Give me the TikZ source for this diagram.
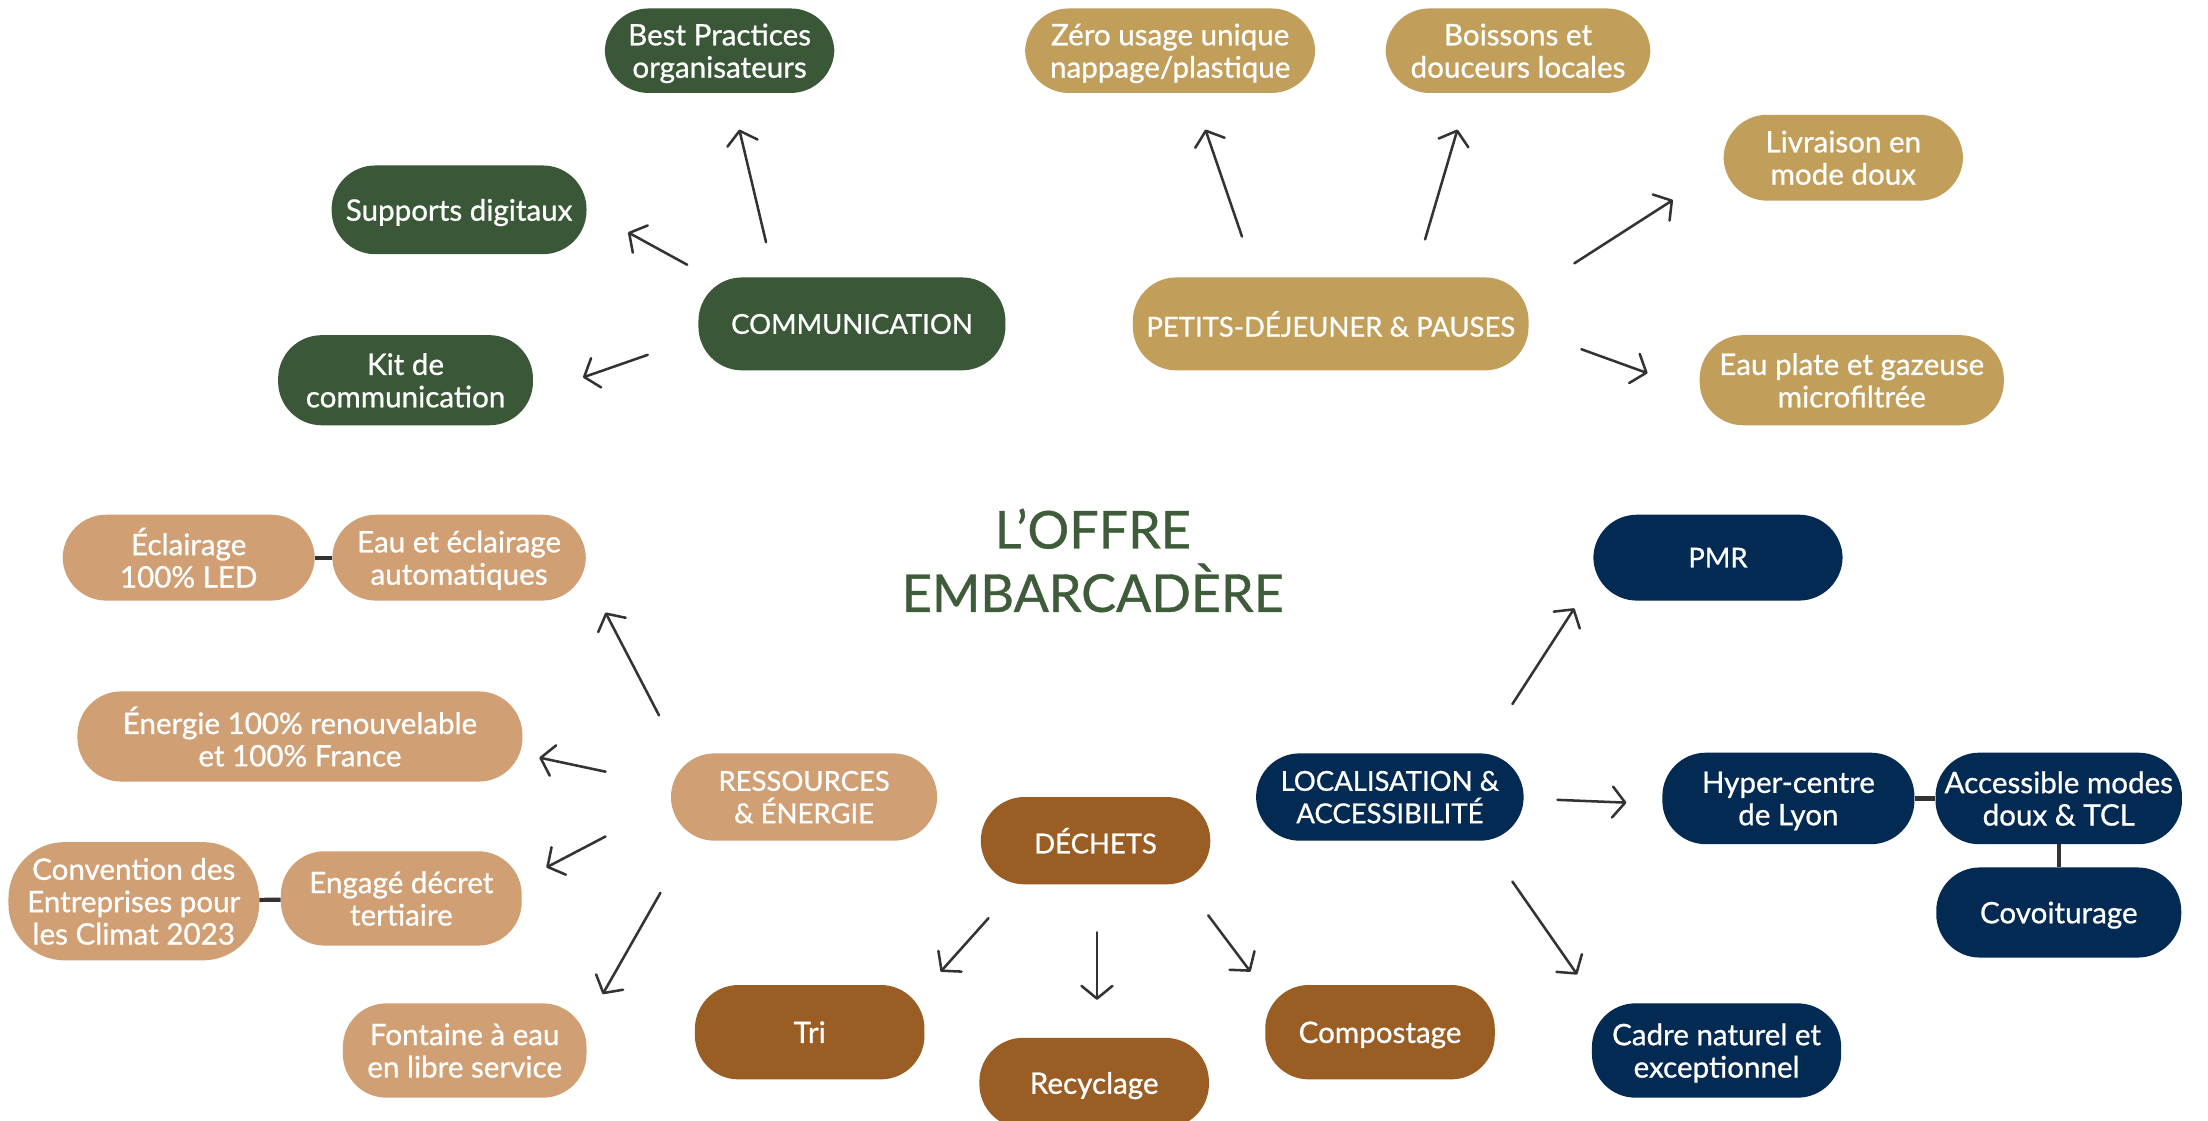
\documentclass[tikz,border=0pt]{standalone}
\usepackage{fontspec}
\setmainfont{Lato}
\newfontfamily\nodefont{Lato}[FakeBold=0.8]
\usetikzlibrary{arrows.meta}
\definecolor{cgreen}{RGB}{58,88,56}
\definecolor{cgold}{RGB}{193,158,90}
\definecolor{ctan}{RGB}{208,159,116}
\definecolor{cbrown}{RGB}{154,94,36}
\definecolor{cnavy}{RGB}{2,42,82}
\definecolor{ctitle}{RGB}{62,92,58}
\definecolor{carrow}{RGB}{51,51,51}
\begin{document}
\begin{tikzpicture}[x=1pt,y=-1pt,
 box/.style={rectangle, rounded corners=31pt, align=center, text=white, font=\nodefont\fontsize{21}{23}\selectfont, inner sep=0pt, text depth=0pt},
 capbox/.style={box, font=\nodefont\fontsize{19.5}{23}\selectfont},
 arr/.style={draw=carrow, line width=1.8pt, line cap=round, -{Straight Barb[length=9pt,width=22pt,line cap=round,line join=round]}},
 link/.style={draw=carrow, line width=3pt}]
\useasboundingbox (0,0) rectangle (1568,796);
\fill[white] (0,0) rectangle (1568,796);

% title
\node[font=\nodefont\fontsize{37}{45}\selectfont, text=ctitle, align=center] (title) at (776,398) {L’OFFRE\\EMBARCADÈRE};

% communication
\node[capbox, fill=cgreen, minimum width=218pt, minimum height=66pt] (comm) at (605,230) {COMMUNICATION};
\node[box, fill=cgreen, minimum width=163pt, minimum height=60pt] (best) at (511,36) {Best Practices\\organisateurs};
\node[box, fill=cgreen, minimum width=181pt, minimum height=63pt] (supp) at (326,149) {Supports digitaux};
\node[box, fill=cgreen, minimum width=181pt, minimum height=64pt] (kit) at (288,270) {Kit de\\communication};

% petits-dejeuner
\node[capbox, fill=cgold, minimum width=281pt, minimum height=66pt] (pdej) at (945,230) {PETITS-DÉJEUNER \& PAUSES};
\node[box, fill=cgold, minimum width=206pt, minimum height=60pt] (zero) at (831,36) {Zéro usage unique\\nappage/plastique};
\node[box, fill=cgold, minimum width=188pt, minimum height=60pt] (bois) at (1078,36) {Boissons et\\douceurs locales};
\node[box, fill=cgold, minimum width=170pt, minimum height=61pt] (livr) at (1309,112) {Livraison en\\mode doux};
\node[box, fill=cgold, minimum width=216pt, minimum height=64pt] (eaup) at (1315,270) {Eau plate et gazeuse\\microfiltrée};

% ressources
\node[capbox, fill=ctan, minimum width=189pt, minimum height=62pt] (ress) at (571,566) {RESSOURCES\\\& ÉNERGIE};
\node[box, fill=ctan, minimum width=179pt, minimum height=61pt] (ecl) at (134,396) {Éclairage\\100\% LED};
\node[box, fill=ctan, minimum width=180pt, minimum height=61pt] (eauec) at (326,396) {Eau et éclairage\\automatiques};
\node[box, fill=ctan, minimum width=316pt, minimum height=64pt] (ener) at (213,523) {Énergie 100\% renouvelable\\et 100\% France};
\node[box, fill=ctan, rounded corners=40pt, minimum width=178pt, minimum height=84pt] (conv) at (95,640) {Convention des\\Entreprises pour\\les Climat 2023};
\node[box, fill=ctan, minimum width=171pt, minimum height=67pt] (enga) at (285,638) {Engagé décret\\tertiaire};
\node[box, fill=ctan, minimum width=173pt, minimum height=67pt] (fonta) at (330,746) {Fontaine à eau\\en libre service};

% dechets
\node[capbox, fill=cbrown, minimum width=163pt, minimum height=62pt] (dech) at (778,597) {DÉCHETS};
\node[box, fill=cbrown, minimum width=163pt, minimum height=67pt] (tri) at (575,733) {Tri};
\node[box, fill=cbrown, minimum width=163pt, minimum height=64pt] (recy) at (777,769) {Recyclage};
\node[box, fill=cbrown, minimum width=163pt, minimum height=67pt] (comp) at (980,733) {Compostage};

% localisation
\node[capbox, fill=cnavy, minimum width=190pt, minimum height=62pt] (loc) at (987,566) {LOCALISATION \&\\ACCESSIBILITÉ};
\node[capbox, fill=cnavy, minimum width=177pt, minimum height=61pt] (pmr) at (1220,396) {PMR};
\node[box, fill=cnavy, minimum width=179pt, minimum height=65pt] (hyp) at (1270,567) {Hyper-centre\\de Lyon};
\node[box, fill=cnavy, minimum width=175pt, minimum height=65pt] (acc) at (1462,567) {Accessible modes\\doux \& TCL};
\node[box, fill=cnavy, minimum width=174pt, minimum height=64pt] (cov) at (1462,648) {Covoiturage};
\node[box, fill=cnavy, minimum width=177pt, minimum height=67pt] (cadre) at (1219,746) {Cadre naturel et\\exceptionnel};

% links
\draw[link] (ecl) -- (eauec);
\draw[link] (conv) -- (enga);
\draw[link] (hyp) -- (acc);
\draw[link] (acc) -- (cov);

% arrows
\draw[arr] ([shift={(-61,-58)}]comm.center) -- ([shift={(14,56)}]best.center);
\draw[arr] ([shift={(-117,-42)}]comm.center) -- ([shift={(120,16)}]supp.center);
\draw[arr] ([shift={(-145,22)}]comm.center) -- ([shift={(126,-2)}]kit.center);

\draw[arr] ([shift={(-63,-62)}]pdej.center) -- ([shift={(25,56)}]zero.center);
\draw[arr] ([shift={(67,-60)}]pdej.center) -- ([shift={(-43,56)}]bois.center);
\draw[arr] ([shift={(173,-43)}]pdej.center) -- ([shift={(-121,30)}]livr.center);
\draw[arr] ([shift={(178,18)}]pdej.center) -- ([shift={(-145,-5)}]eaup.center);

\draw[arr] ([shift={(-103,-58)}]ress.center) -- ([shift={(104,39)}]eauec.center);
\draw[arr] ([shift={(-141,-18)}]ress.center) -- ([shift={(170,15)}]ener.center);
\draw[arr] ([shift={(-141,28)}]ress.center) -- ([shift={(103,-22)}]enga.center);
\draw[arr] ([shift={(-102,68)}]ress.center) -- ([shift={(98,-40)}]fonta.center);

\draw[arr] ([shift={(-76,55)}]dech.center) -- ([shift={(93,-43)}]tri.center);
\draw[arr] ([shift={(1,65)}]dech.center) -- ([shift={(2,-59)}]recy.center);
\draw[arr] ([shift={(80,53)}]dech.center) -- ([shift={(-92,-43)}]comp.center);

\draw[arr] ([shift={(87,-66)}]loc.center) -- ([shift={(-102,36)}]pmr.center);
\draw[arr] ([shift={(119,2)}]loc.center) -- ([shift={(-115,3)}]hyp.center);
\draw[arr] ([shift={(87,60)}]loc.center) -- ([shift={(-99,-54)}]cadre.center);
\end{tikzpicture}
\end{document}
